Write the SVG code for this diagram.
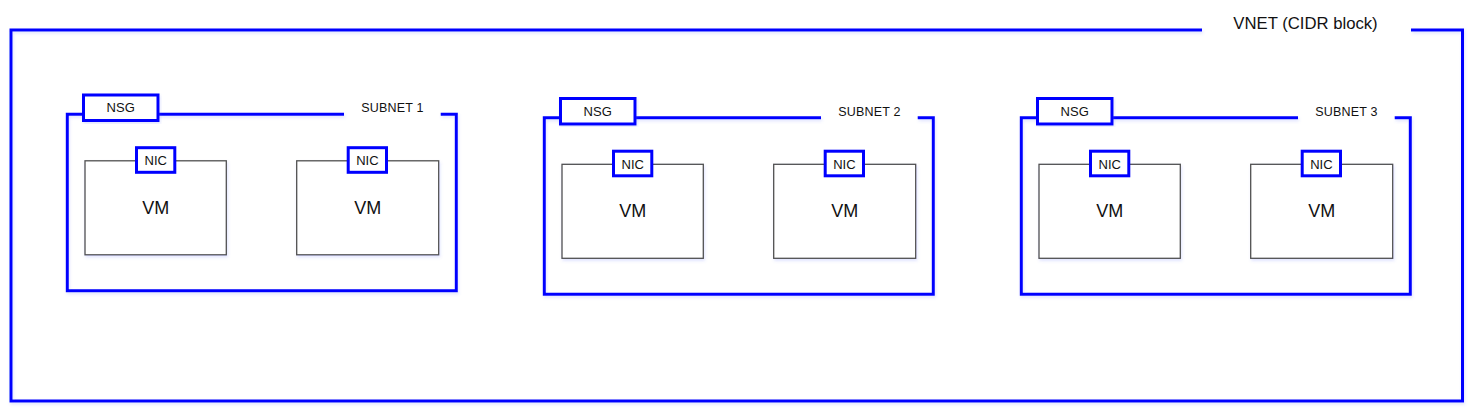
<svg xmlns="http://www.w3.org/2000/svg" width="1476" height="414" viewBox="0 0 1476 414">
  <style>
    .blue { fill: none; stroke: #0000FF; stroke-width: 3; }
    .box { fill: #FFFFFF; stroke: #0000FF; stroke-width: 3; }
    .vm { fill: #FFFFFF; stroke: #505050; stroke-width: 1.3; }
    text { font-family: "Liberation Sans", Arial, sans-serif; fill: #111111; text-anchor: middle; }
    .t-vnet { font-size: 16.7px; }
    .t-sub { font-size: 12.5px; letter-spacing: 0.2px; }
    .t-nsg { font-size: 13px; }
    .t-nic { font-size: 13px; }
    .t-vm { font-size: 18px; }
  </style>
  <defs>
    <filter id="sh" x="-5%" y="-5%" width="110%" height="115%">
      <feDropShadow dx="1" dy="2" stdDeviation="1.5" flood-color="#6070ff" flood-opacity="0.18"/>
    </filter>
  </defs>
  <rect x="0" y="0" width="1476" height="414" fill="#FFFFFF"/>

  <g id="vnet">
    <path class="blue" filter="url(#sh)" d="M 1202 30 H 11 V 401 H 1462.5 V 30 H 1411"/>
    <text class="t-vnet" x="1305.5" y="29">VNET (CIDR block)</text>
  </g>

  <g id="subnet1" transform="translate(-477,-3.5)">
    <path class="blue" filter="url(#sh)" d="M 821 117.7 H 544.3 V 294.3 H 933.3 V 117.7 H 917.7"/>
    <text class="t-sub" x="869.5" y="115.7">SUBNET 1</text>
    <g id="nsg1">
      <rect class="box" filter="url(#sh)" x="560.5" y="98.5" width="74.5" height="25.5"/>
      <text class="t-nsg" x="597.7" y="115.6">NSG</text>
    </g>
    <g id="vm1a">
      <rect class="vm" filter="url(#sh)" x="562" y="164.3" width="141.3" height="94"/>
      <text class="t-vm" x="632.7" y="217.3">VM</text>
      <g id="nic1a">
        <rect class="box" x="613.5" y="151.2" width="38.3" height="24.6"/>
        <text class="t-nic" x="632.7" y="168.8">NIC</text>
      </g>
    </g>
    <g id="vm1b">
      <rect class="vm" filter="url(#sh)" x="773.7" y="164.3" width="142" height="94"/>
      <text class="t-vm" x="844.7" y="217.3">VM</text>
      <g id="nic1b">
        <rect class="box" x="825.2" y="151.2" width="38.3" height="24.6"/>
        <text class="t-nic" x="844.4" y="168.8">NIC</text>
      </g>
    </g>
  </g>

  <g id="subnet2">
    <path class="blue" filter="url(#sh)" d="M 821 117.7 H 544.3 V 294.3 H 933.3 V 117.7 H 917.7"/>
    <text class="t-sub" x="869.5" y="115.7">SUBNET 2</text>
    <g id="nsg2">
      <rect class="box" filter="url(#sh)" x="560.5" y="98.5" width="74.5" height="25.5"/>
      <text class="t-nsg" x="597.7" y="115.6">NSG</text>
    </g>
    <g id="vm2a">
      <rect class="vm" filter="url(#sh)" x="562" y="164.3" width="141.3" height="94"/>
      <text class="t-vm" x="632.7" y="217.3">VM</text>
      <g id="nic2a">
        <rect class="box" x="613.5" y="151.2" width="38.3" height="24.6"/>
        <text class="t-nic" x="632.7" y="168.8">NIC</text>
      </g>
    </g>
    <g id="vm2b">
      <rect class="vm" filter="url(#sh)" x="773.7" y="164.3" width="142" height="94"/>
      <text class="t-vm" x="844.7" y="217.3">VM</text>
      <g id="nic2b">
        <rect class="box" x="825.2" y="151.2" width="38.3" height="24.6"/>
        <text class="t-nic" x="844.4" y="168.8">NIC</text>
      </g>
    </g>
  </g>

  <g id="subnet3" transform="translate(477,0)">
    <path class="blue" filter="url(#sh)" d="M 821 117.7 H 544.3 V 294.3 H 933.3 V 117.7 H 917.7"/>
    <text class="t-sub" x="869.5" y="115.7">SUBNET 3</text>
    <g id="nsg3">
      <rect class="box" filter="url(#sh)" x="560.5" y="98.5" width="74.5" height="25.5"/>
      <text class="t-nsg" x="597.7" y="115.6">NSG</text>
    </g>
    <g id="vm3a">
      <rect class="vm" filter="url(#sh)" x="562" y="164.3" width="141.3" height="94"/>
      <text class="t-vm" x="632.7" y="217.3">VM</text>
      <g id="nic3a">
        <rect class="box" x="613.5" y="151.2" width="38.3" height="24.6"/>
        <text class="t-nic" x="632.7" y="168.8">NIC</text>
      </g>
    </g>
    <g id="vm3b">
      <rect class="vm" filter="url(#sh)" x="773.7" y="164.3" width="142" height="94"/>
      <text class="t-vm" x="844.7" y="217.3">VM</text>
      <g id="nic3b">
        <rect class="box" x="825.2" y="151.2" width="38.3" height="24.6"/>
        <text class="t-nic" x="844.4" y="168.8">NIC</text>
      </g>
    </g>
  </g>

  <g id="connectors"></g>
</svg>
